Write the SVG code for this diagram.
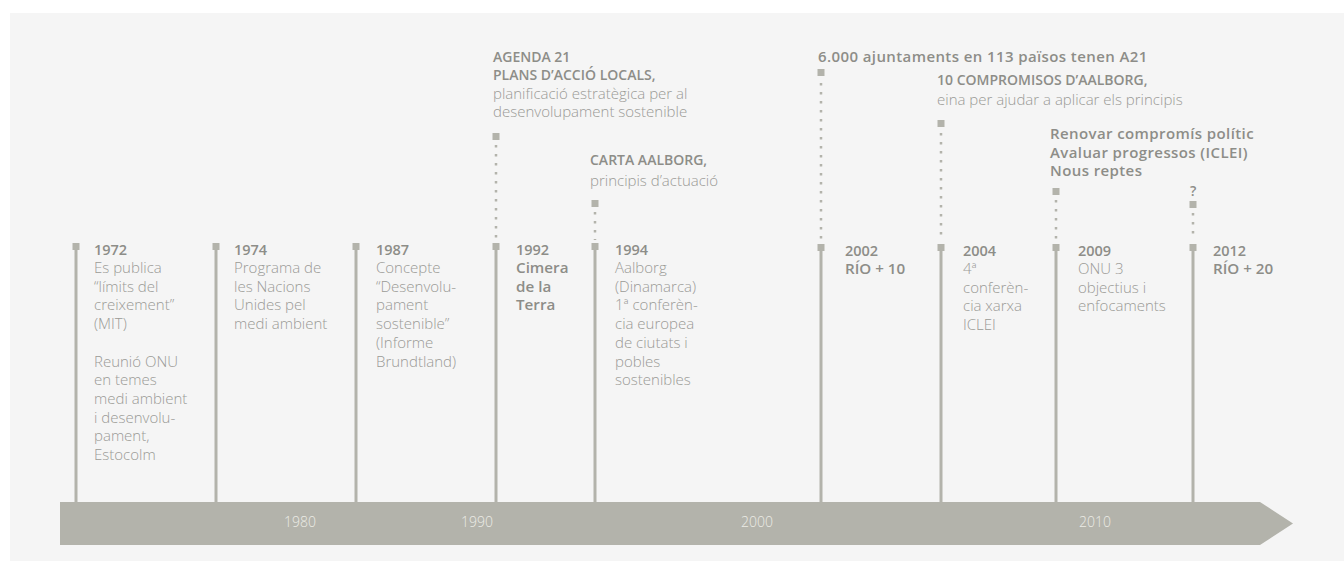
<svg xmlns="http://www.w3.org/2000/svg" width="1344" height="561" viewBox="0 0 1344 561">
<style>
.bg{fill:#f5f5f5}
.bar{fill:#b3b3ab}
.stem{stroke:#b3b3ab;stroke-width:3;fill:none}
.dot{stroke:#b3b3ab;stroke-width:2.5;stroke-dasharray:2.5 6.5;fill:none}
.sq{fill:#b3b3ab}
text{font-family:"Open Sans","Liberation Sans",sans-serif;font-size:14px}
.yr{font-weight:600;fill:#8d8d88;font-size:14.5px}
.yb{font-weight:600;fill:#8d8d88;font-size:15.2px}
.bd{font-weight:300;fill:#9a9a95;font-size:15px}
.hd{font-weight:600;fill:#8d8d88}
.hl{font-weight:600;fill:#8d8d88;font-size:15px;letter-spacing:0.4px}
.dec{font-weight:300;fill:#ecece6;text-anchor:middle}
</style>
<rect class="bg" x="10" y="13" width="1334" height="548"/>
<g id="axis">
<polygon class="bar" points="60,502 1260,502 1293,523.5 1260,545 60,545"/>
<text class="dec" x="300" y="527">1980</text>
<text class="dec" x="477" y="527">1990</text>
<text class="dec" x="757" y="527">2000</text>
<text class="dec" x="1095" y="527">2010</text>
</g>
<g id="connectors">
<line class="stem" x1="76" y1="247" x2="76" y2="502"/>
<line class="stem" x1="216" y1="247" x2="216" y2="502"/>
<line class="stem" x1="356" y1="247" x2="356" y2="502"/>
<line class="stem" x1="496" y1="247" x2="496" y2="502"/>
<line class="stem" x1="595" y1="247" x2="595" y2="502"/>
<line class="stem" x1="821" y1="247" x2="821" y2="502"/>
<line class="stem" x1="941" y1="247" x2="941" y2="502"/>
<line class="stem" x1="1056" y1="247" x2="1056" y2="502"/>
<line class="stem" x1="1193" y1="247" x2="1193" y2="502"/>
<line class="dot" x1="496" y1="145" x2="496" y2="240"/>
<line class="dot" x1="595" y1="212" x2="595" y2="240"/>
<line class="dot" x1="821" y1="83" x2="821" y2="240"/>
<line class="dot" x1="941" y1="133" x2="941" y2="240"/>
<line class="dot" x1="1056" y1="200" x2="1056" y2="240"/>
<line class="dot" x1="1193" y1="213" x2="1193" y2="240"/>
</g>
<g id="n1972">
<rect class="sq" x="72.5" y="243" width="7" height="7"/>
<text class="yr" x="94" y="255">1972</text>
<text class="bd" x="94" y="273"><tspan x="94" dy="0">Es publica</tspan><tspan x="94" dy="18.7">“límits del</tspan><tspan x="94" dy="18.7">creixement”</tspan><tspan x="94" dy="18.7">(MIT)</tspan><tspan x="94" dy="37.4">Reunió ONU</tspan><tspan x="94" dy="18.7">en temes</tspan><tspan x="94" dy="18.7">medi ambient</tspan><tspan x="94" dy="18.7">i desenvolu-</tspan><tspan x="94" dy="18.7">pament,</tspan><tspan x="94" dy="18.7">Estocolm</tspan></text>
</g>
<g id="n1974">
<rect class="sq" x="212.5" y="243" width="7" height="7"/>
<text class="yr" x="234" y="255">1974</text>
<text class="bd" x="234" y="273"><tspan x="234" dy="0">Programa de</tspan><tspan x="234" dy="18.7">les Nacions</tspan><tspan x="234" dy="18.7">Unides pel</tspan><tspan x="234" dy="18.7">medi ambient</tspan></text>
</g>
<g id="n1987">
<rect class="sq" x="352.5" y="243" width="7" height="7"/>
<text class="yr" x="376" y="255">1987</text>
<text class="bd" x="376" y="273"><tspan x="376" dy="0">Concepte</tspan><tspan x="376" dy="18.7">“Desenvolu-</tspan><tspan x="376" dy="18.7">pament</tspan><tspan x="376" dy="18.7">sostenible”</tspan><tspan x="376" dy="18.7">(Informe</tspan><tspan x="376" dy="18.7">Brundtland)</tspan></text>
</g>
<g id="n1992">
<rect class="sq" x="492.5" y="243" width="7" height="7"/>
<rect class="sq" x="492.5" y="133" width="7" height="7"/>
<text class="yr" x="516" y="255">1992</text>
<text class="yb" x="516" y="273"><tspan x="516" dy="0">Cimera</tspan><tspan x="516" dy="18.7">de la</tspan><tspan x="516" dy="18.7">Terra</tspan></text>
<text class="hd" x="493" y="62"><tspan x="493" dy="0">AGENDA 21</tspan><tspan x="493" dy="17.6">PLANS D’ACCIÓ LOCALS,</tspan></text>
<text class="bd" x="493" y="98.5"><tspan x="493" dy="0">planificació estratègica per al</tspan><tspan x="493" dy="18.5">desenvolupament sostenible</tspan></text>
</g>
<g id="n1994">
<rect class="sq" x="591.5" y="243" width="7" height="7"/>
<rect class="sq" x="591.5" y="200" width="7" height="7"/>
<text class="yr" x="615" y="255">1994</text>
<text class="bd" x="615" y="273"><tspan x="615" dy="0">Aalborg</tspan><tspan x="615" dy="18.7">(Dinamarca)</tspan><tspan x="615" dy="18.7">1ª conferèn-</tspan><tspan x="615" dy="18.7">cia europea</tspan><tspan x="615" dy="18.7">de ciutats i</tspan><tspan x="615" dy="18.7">pobles</tspan><tspan x="615" dy="18.7">sostenibles</tspan></text>
<text class="hd" x="590" y="165">CARTA AALBORG,</text>
<text class="bd" x="590" y="185.5">principis d’actuació</text>
</g>
<g id="n2002">
<rect class="sq" x="817.5" y="244" width="7" height="7"/>
<rect class="sq" x="817.5" y="69" width="7" height="7"/>
<text class="yr" x="845" y="256">2002</text>
<text class="yb" x="845" y="274">RÍO + 10</text>
<text class="hl" x="818" y="62">6.000 ajuntaments en 113 països tenen A21</text>
</g>
<g id="n2004">
<rect class="sq" x="937.5" y="244" width="7" height="7"/>
<rect class="sq" x="937.5" y="120" width="7" height="7"/>
<text class="yr" x="963" y="256">2004</text>
<text class="bd" x="963" y="274"><tspan x="963" dy="0">4ª</tspan><tspan x="963" dy="18.7">conferèn-</tspan><tspan x="963" dy="18.7">cia xarxa</tspan><tspan x="963" dy="18.7">ICLEI</tspan></text>
<text class="hd" x="937" y="85">10 COMPROMISOS D’AALBORG,</text>
<text class="bd" x="937" y="105">eina per ajudar a aplicar els principis</text>
</g>
<g id="n2009">
<rect class="sq" x="1052.5" y="244" width="7" height="7"/>
<rect class="sq" x="1052.5" y="188" width="7" height="7"/>
<text class="yr" x="1078" y="256">2009</text>
<text class="bd" x="1078" y="274"><tspan x="1078" dy="0">ONU 3</tspan><tspan x="1078" dy="18.7">objectius i</tspan><tspan x="1078" dy="18.7">enfocaments</tspan></text>
<text class="hl" x="1050" y="139"><tspan x="1050" dy="0">Renovar compromís polític</tspan><tspan x="1050" dy="18.5">Avaluar progressos (ICLEI)</tspan><tspan x="1050" dy="18.5">Nous reptes</tspan></text>
</g>
<g id="n2012">
<rect class="sq" x="1189.5" y="244" width="7" height="7"/>
<rect class="sq" x="1189.5" y="201" width="7" height="7"/>
<text class="yr" x="1213" y="256">2012</text>
<text class="yb" x="1213" y="274">RÍO + 20</text>
<text class="hd" x="1190" y="196">?</text>
</g>
</svg>
